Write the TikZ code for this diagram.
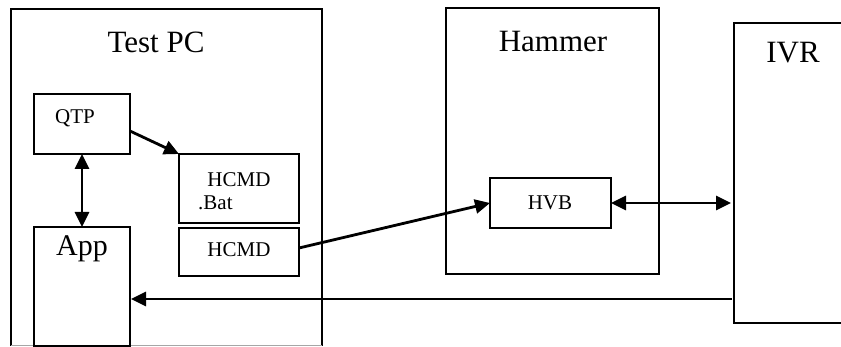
\documentclass[tikz,border=0pt]{standalone}
\usepackage{fontspec}
\setmainfont{Liberation Serif}
\usetikzlibrary{arrows.meta}
\begin{document}
\begin{tikzpicture}[x=1pt,y=-1pt,
  box/.style={draw=black,line width=1.7pt,minimum width=#1,inner sep=0pt,outer sep=0pt},
  bigtxt/.style={font=\fontsize{31}{32}\selectfont,inner sep=0pt},
  smalltxt/.style={font=\fontsize{21}{22}\selectfont,inner sep=0pt},
  conn/.style={line width=2.8pt,-{Triangle[length=15pt,width=14pt]}},
  conn2/.style={line width=2.8pt,{Triangle[length=15pt,width=14pt]}-{Triangle[length=15pt,width=14pt]}}]
\useasboundingbox (0,0) rectangle (841,347);
% Test PC (open at the bottom edge)
\node[minimum width=311pt,minimum height=337pt,inner sep=0pt,outer sep=0pt] (testpc) at (166.5,177.5) {};
\draw[line width=1.7pt] (testpc.south west) -- (testpc.north west) -- (testpc.north east) -- (testpc.south east);
\draw[line width=1pt,black!35] (testpc.south west) -- (testpc.south east);
\node[bigtxt] (testpclbl) at (156,42) {Test PC};
% inner boxes
\node[box=96pt,minimum height=60pt] (qtp) at (82,124) {};
\node[smalltxt] (qtplbl) at (75,118) {QTP};
\node[box=120pt,minimum height=69pt] (bat) at (239,188.5) {};
\node[smalltxt] (batlbl1) at (239,180) {HCMD};
\node[smalltxt,anchor=west] (batlbl2) at (198,203) {.Bat};
\node[box=120pt,minimum height=48pt] (hcmd) at (239,252) {};
\node[smalltxt] (hcmdlbl) at (239,250) {HCMD};
\node[box=96pt,minimum height=119pt] (app) at (82,286.5) {};
\node[font=\fontsize{30}{32}\selectfont,inner sep=0pt] (applbl) at (82,249) {App};
% Hammer
\node[box=213pt,minimum height=266pt] (hammer) at (552.5,141) {};
\node[bigtxt] (hammerlbl) at (553,42) {Hammer};
\node[box=121pt,minimum height=50pt] (hvb) at (550.5,203) {};
\node[smalltxt] (hvblbl) at (550,203) {HVB};
% IVR
\node[box=136pt,minimum height=300pt] (ivr) at (802,173) {};
\node[bigtxt] (ivrlbl) at (793,53) {IVR};
% connectors
\draw[conn2] (qtp.south) -- (app.north);
\draw[conn] ([yshift=-7pt]qtp.east) -- (bat.north west);
\draw[conn] ([yshift=4pt]hcmd.east) -- (hvb.west);
\draw[conn2,shorten >=3pt] (hvb.east) -- (ivr.west |- hvb.east);
\coordinate (appin) at ([yshift=-12.5pt]app.east);
\draw[conn,shorten >=1pt] ([xshift=-2pt]ivr.west |- appin) -- (appin);
\end{tikzpicture}
\end{document}
